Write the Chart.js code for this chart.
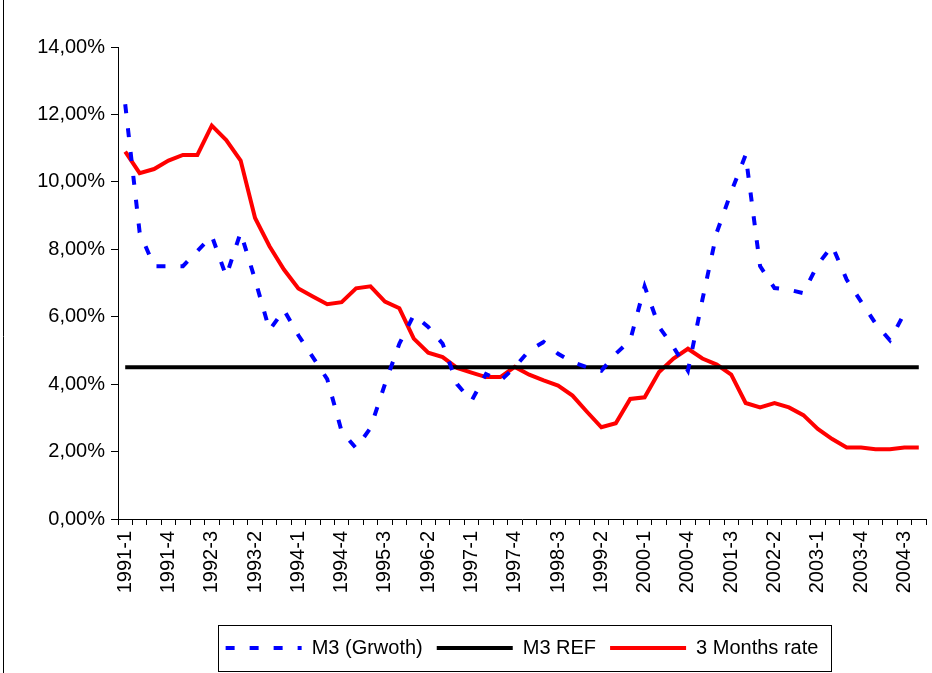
<!DOCTYPE html>
<html><head><meta charset="utf-8">
<script src="https://cdn.jsdelivr.net/npm/chart.js@4/dist/chart.umd.min.js"></script>
<style>html,body{margin:0;padding:0;background:#fff}</style>
</head><body>
<canvas id="c" width="932" height="673"></canvas>
<script>
const quarters = [
 "1991-1","1991-2","1991-3","1991-4","1992-1","1992-2","1992-3","1992-4",
 "1993-1","1993-2","1993-3","1993-4","1994-1","1994-2","1994-3","1994-4",
 "1995-1","1995-2","1995-3","1995-4","1996-1","1996-2","1996-3","1996-4",
 "1997-1","1997-2","1997-3","1997-4","1998-1","1998-2","1998-3","1998-4",
 "1999-1","1999-2","1999-3","1999-4","2000-1","2000-2","2000-3","2000-4",
 "2001-1","2001-2","2001-3","2001-4","2002-1","2002-2","2002-3","2002-4",
 "2003-1","2003-2","2003-3","2003-4","2004-1","2004-2","2004-3","2004-4"
];
const m3Growth = [
 12.3,8.5,7.5,7.5,7.5,7.95,8.4,7.2,8.5,7.1,
 5.6,6.2,5.45,4.8,4.15,2.6,2.1,2.7,4.0,5.2,
 6.05,5.7,5.2,4.0,3.5,4.3,4.1,4.5,5.0,5.25,
 4.9,4.65,4.5,4.4,4.9,5.3,6.9,5.7,5.1,4.4,
 6.5,8.5,9.7,10.8,7.5,6.85,6.8,6.7,7.55,8.1,
 7.1,6.45,5.8,5.3,6.1,null
];
const m3Ref = [
 4.5,4.5,4.5,4.5,4.5,4.5,4.5,4.5,4.5,4.5,4.5,4.5,4.5,4.5,
 4.5,4.5,4.5,4.5,4.5,4.5,4.5,4.5,4.5,4.5,4.5,4.5,4.5,4.5,
 4.5,4.5,4.5,4.5,4.5,4.5,4.5,4.5,4.5,4.5,4.5,4.5,4.5,4.5,
 4.5,4.5,4.5,4.5,4.5,4.5,4.5,4.5,4.5,4.5,4.5,4.5,4.5,4.5
];
const rate3M = [
 10.9,10.26,10.38,10.63,10.8,10.8,11.67,11.24,10.63,8.93,
 8.09,7.4,6.84,6.6,6.37,6.43,6.84,6.9,6.45,6.25,
 5.35,4.93,4.8,4.48,4.34,4.21,4.21,4.51,4.28,4.11,
 3.96,3.66,3.18,2.72,2.84,3.56,3.61,4.36,4.76,5.05,
 4.76,4.58,4.28,3.44,3.31,3.44,3.31,3.08,2.67,2.37,
 2.12,2.12,2.07,2.07,2.12,2.12
];
const seriesNames = ["M3 (Grwoth)", "M3 REF", "3 Months rate"];
const yTicks = [0,2,4,6,8,10,12,14];

const FONT = "'Liberation Sans', Arial, sans-serif";

const frame = {
  id: 'frame',
  afterDraw(chart) {
    const ctx = chart.ctx;
    ctx.save();
    ctx.strokeStyle = '#000';
    ctx.lineWidth = 1;
    ctx.setLineDash([]);
    ctx.beginPath();
    ctx.moveTo(3.5, 0); ctx.lineTo(3.5, chart.height);
    ctx.stroke();
    const hb = chart.legend && chart.legend.legendHitBoxes;
    if (hb && hb.length) {
      let l = Infinity, r = -Infinity, t = Infinity, b = -Infinity;
      hb.forEach(h => { l = Math.min(l, h.left); r = Math.max(r, h.left + h.width); t = Math.min(t, h.top); b = Math.max(b, h.top + h.height); });
      ctx.strokeRect(Math.round(l - 8) + 0.5, Math.round(t - 13) + 0.5, Math.round(r - l + 20), Math.round(b - t + 26));
    }
    ctx.restore();
  }
};

new Chart(document.getElementById('c'), {
  type: 'line',
  data: {
    labels: quarters,
    datasets: [
      { label: seriesNames[0], data: m3Growth, borderColor: '#0000ff', backgroundColor: '#0000ff',
        borderWidth: 4, borderDash: [9, 15], borderCapStyle: 'butt', pointRadius: 0, tension: 0, spanGaps: false },
      { label: seriesNames[1], data: m3Ref, borderColor: '#000000', backgroundColor: '#000000',
        borderWidth: 4, pointRadius: 0, tension: 0 },
      { label: seriesNames[2], data: rate3M, borderColor: '#ff0000', backgroundColor: '#ff0000',
        borderWidth: 4, pointRadius: 0, tension: 0 }
    ]
  },
  options: {
    responsive: false,
    animation: false,
    devicePixelRatio: 1,
    layout: { padding: { top: 47, left: 0, right: 6, bottom: 5 } },
    plugins: {
      tooltip: { enabled: false },
      legend: {
        position: 'bottom',
        fullSize: false,
        labels: {
          usePointStyle: true, pointStyle: 'line', pointStyleWidth: 76,
          boxHeight: 4,
          padding: 14,
          color: '#000',
          font: { family: FONT, size: 20 },
          generateLabels(chart) {
            const items = Chart.defaults.plugins.legend.labels.generateLabels(chart);
            items.forEach(it => {
              const ds = chart.data.datasets[it.datasetIndex];
              it.lineDash = ds.borderDash || [];
              it.lineWidth = ds.borderWidth;
              it.strokeStyle = ds.borderColor;
              it.lineCap = 'butt';
              it.pointStyle = 'line';
            });
            return items;
          }
        }
      }
    },
    scales: {
      x: {
        type: 'category',
        offset: true,
        afterFit(s) { s.height = 105; s.paddingLeft = 0; s.paddingRight = 0; },
        grid: { offset: true, drawOnChartArea: false, drawTicks: true, tickLength: 6, color: '#000' },
        border: { color: '#000', width: 1 },
        ticks: {
          autoSkip: false, minRotation: 90, maxRotation: 90, padding: 6,
          color: '#000', font: { family: FONT, size: 20 },
          callback(v, i) { return i % 3 === 0 ? quarters[i] : ''; }
        }
      },
      y: {
        min: 0, max: 14,
        afterFit(s) { s.width = 118; s.paddingTop = 0; s.paddingBottom = 0; },
        afterBuildTicks(s) { s.ticks = yTicks.map(v => ({ value: v })); },
        grid: { drawOnChartArea: false, drawTicks: true, tickLength: 7, color: '#000' },
        border: { color: '#000', width: 1 },
        ticks: {
          padding: 6, color: '#000', font: { family: FONT, size: 20 },
          callback(v) { return v.toFixed(2).replace('.', ',') + '%'; }
        }
      }
    }
  },
  plugins: [frame]
});
</script>
</body></html>
